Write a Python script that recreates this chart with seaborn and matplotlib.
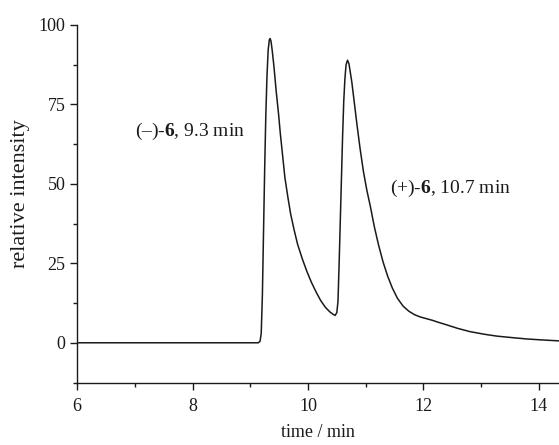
import numpy as np
import pandas as pd
import matplotlib
matplotlib.use("Agg")
import matplotlib.pyplot as plt
from matplotlib.ticker import MultipleLocator
import seaborn as sns

# chromatogram trace (time in min, relative intensity)
time_min = [6.00, 7.00, 8.00, 9.00, 9.14, 9.17, 9.19, 9.21, 9.23, 9.25, 9.27,
            9.29, 9.31, 9.33, 9.345, 9.36, 9.38, 9.41, 9.45, 9.49, 9.52, 9.56,
            9.60, 9.65, 9.70, 9.76, 9.82, 9.90, 9.98, 10.06, 10.14, 10.22, 10.30,
            10.38, 10.44, 10.47, 10.50, 10.52, 10.54, 10.57, 10.60, 10.62, 10.64,
            10.66, 10.685, 10.71, 10.73, 10.76, 10.80, 10.85, 10.90, 10.96, 11.02,
            11.08, 11.15, 11.22, 11.30, 11.38, 11.46, 11.55, 11.65, 11.75, 11.85,
            11.95, 12.05, 12.15, 12.25, 12.41, 12.60, 12.81, 13.05, 13.27, 13.55,
            13.79, 14.05, 14.35]
intensity = [0.0, 0.0, 0.0, 0.0, 0.0, 0.5, 3.0, 15.0, 35.0, 55.0, 72.0,
             84.0, 92.0, 95.3, 95.7, 94.8, 92.0, 87.0, 79.0, 72.0, 66.0, 59.0,
             52.0, 46.0, 40.5, 35.5, 31.0, 26.5, 22.5, 19.0, 16.0, 13.3, 11.2,
             9.7, 8.9, 8.6, 9.5, 13.0, 25.0, 45.0, 65.0, 76.0, 83.0,
             87.5, 88.9, 87.8, 85.5, 82.0, 76.0, 68.5, 61.5, 54.0, 48.0,
             43.0, 36.5, 31.0, 25.5, 21.0, 17.3, 14.0, 11.5, 9.9, 8.8,
             8.1, 7.6, 7.1, 6.5, 5.6, 4.5, 3.5, 2.7, 2.1, 1.6,
             1.2, 0.9, 0.6]

peak_labels = ["(\u2013)-", "(+)-"]
peak_times = ["9.3", "10.7"]

df = pd.DataFrame({"time": time_min, "intensity": intensity})

sns.set_style("ticks")
plt.rcParams["font.family"] = ["Liberation Serif", "DejaVu Serif"]
plt.rcParams["mathtext.fontset"] = "custom"
plt.rcParams["mathtext.rm"] = "Liberation Serif"
plt.rcParams["mathtext.bf"] = "Liberation Serif:bold"

fig = plt.figure(figsize=(5.59, 4.45), dpi=100)
ax = fig.add_axes([0.138, 0.139, 0.862, 0.805])

sns.lineplot(data=df, x="time", y="intensity", ax=ax, color="#1a1a1a",
             linewidth=1.1, estimator=None, sort=False)

ax.set_xlim(6, 14.35)
ax.set_ylim(-12.7, 100)
ax.xaxis.set_major_locator(MultipleLocator(2))
ax.xaxis.set_minor_locator(MultipleLocator(1))
ax.yaxis.set_major_locator(MultipleLocator(25))
ax.yaxis.set_minor_locator(MultipleLocator(12.5))
ax.tick_params(which="major", direction="out", length=5, width=1,
               labelsize=13, color="#1a1a1a", labelcolor="#1a1a1a")
ax.tick_params(which="minor", direction="out", length=3, width=1,
               color="#1a1a1a")
ax.tick_params(axis="x", pad=6)

sns.despine(ax=ax)
for s in ["left", "bottom"]:
    ax.spines[s].set_linewidth(1.0)
    ax.spines[s].set_color("#1a1a1a")

ax.set_xlabel("time / min", fontsize=13, color="#1a1a1a", labelpad=6)
ax.set_ylabel("relative intensity", fontsize=16, color="#1a1a1a", labelpad=6)
ax.yaxis.label.set_y(0.53)

# peak annotations
ax.text(7.0, 66.5, peak_labels[0] + r"$\mathbf{6}$" + ", " + peak_times[0] + " min",
        fontsize=14, color="#1a1a1a", va="center")
ax.text(11.42, 48.5, peak_labels[1] + r"$\mathbf{6}$" + ", " + peak_times[1] + " min",
        fontsize=14, color="#1a1a1a", va="center")

fig.savefig("out.png", dpi=100)
